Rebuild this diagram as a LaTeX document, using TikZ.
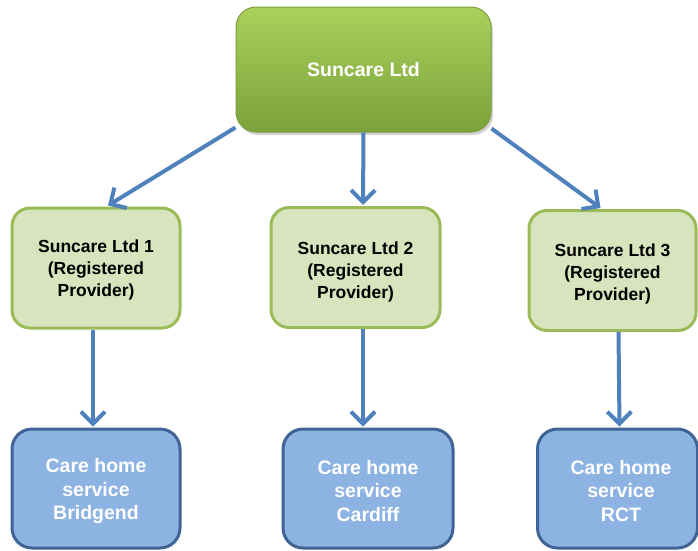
\documentclass[tikz,border=0pt]{standalone}
\usepackage{fontspec}
\setmainfont{Liberation Sans}
\usetikzlibrary{arrows.meta,shadows}
\definecolor{topA}{HTML}{AAD15B}
\definecolor{topB}{HTML}{7AA23A}
\definecolor{topline}{HTML}{7E9C40}
\definecolor{midfill}{HTML}{D7E4BD}
\definecolor{midline}{HTML}{9BBB59}
\definecolor{botfill}{HTML}{8DB3E2}
\definecolor{botline}{HTML}{3F6495}
\definecolor{arr}{HTML}{4F81BD}
\tikzset{
  topbox/.style={rectangle, rounded corners=20pt, draw=topline, line width=1pt,
    top color=topA, bottom color=topB,
    drop shadow={shadow xshift=2pt, shadow yshift=-3pt, opacity=0.35},
    minimum width=255pt, minimum height=125pt, text=white,
    font=\fontsize{19.5}{22}\selectfont\bfseries, align=center},
  midbox/.style={rectangle, rounded corners=18pt, draw=midline, fill=midfill, line width=3pt,
    minimum height=120pt, text=black,
    font=\fontsize{17.5}{21.7}\selectfont\bfseries, align=center},
  botbox/.style={rectangle, rounded corners=20pt, draw=botline, fill=botfill, line width=3pt,
    minimum height=119pt, text=white,
    font=\fontsize{19.5}{23}\selectfont\bfseries, align=center},
  midtext/.style={font=\fontsize{17.5}{21.7}\selectfont\bfseries, align=center, text=black},
  bottext/.style={font=\fontsize{19.5}{23.3}\selectfont\bfseries, align=center, text=white},
  conn/.style={draw=arr, line width=4pt, -{Straight Barb[length=12pt, width=24pt, line width=4pt]}}
}
\begin{document}
\begin{tikzpicture}[x=1pt,y=-1pt]
\useasboundingbox (0,0) rectangle (698,550);
\node[topbox] (top) at (363.5,69.5) {Suncare Ltd};
\node[midbox, minimum width=168pt] (m1) at (96,268) {};
\node[midbox, minimum width=169pt] (m2) at (355.5,267.5) {};
\node[midbox, minimum width=167pt] (m3) at (612.5,270.5) {};
\node[midtext] (t1) at (96,270) {Suncare Ltd 1\\(Registered\\Provider)};
\node[midtext] (t2) at (355.5,272) {Suncare Ltd 2\\(Registered\\Provider)};
\node[midtext] (t3) at (612.5,274) {Suncare Ltd 3\\(Registered\\Provider)};
\node[botbox, minimum width=168pt] (b1) at (96,488.5) {};
\node[botbox, minimum width=170pt] (b2) at (368,488.5) {};
\node[botbox, minimum width=160pt] (b3) at (617.5,488.5) {};
\node[bottext] (u1) at (96,491) {Care home\\service\\Bridgend};
\node[bottext] (u2) at (368,491) {Care home\\service\\Cardiff};
\node[bottext] (u3) at (621,491) {Care home\\service\\RCT};
\draw[conn] ([yshift=5pt]top.south west) -- ([xshift=12pt,yshift=1pt]m1.north);
\draw[conn] (top.south) -- ([xshift=7.5pt,yshift=1pt]m2.north);
\draw[conn] ([yshift=4pt]top.south east) -- ([xshift=-12pt,yshift=1pt]m3.north);
\draw[conn] ([xshift=-3pt]m1.south) -- ([xshift=-3pt,yshift=1pt]b1.north);
\draw[conn] ([xshift=7.5pt]m2.south) -- ([xshift=-5pt,yshift=1pt]b2.north);
\draw[conn] ([xshift=6pt]m3.south) -- ([xshift=2pt,yshift=1pt]b3.north);
\end{tikzpicture}
\end{document}
